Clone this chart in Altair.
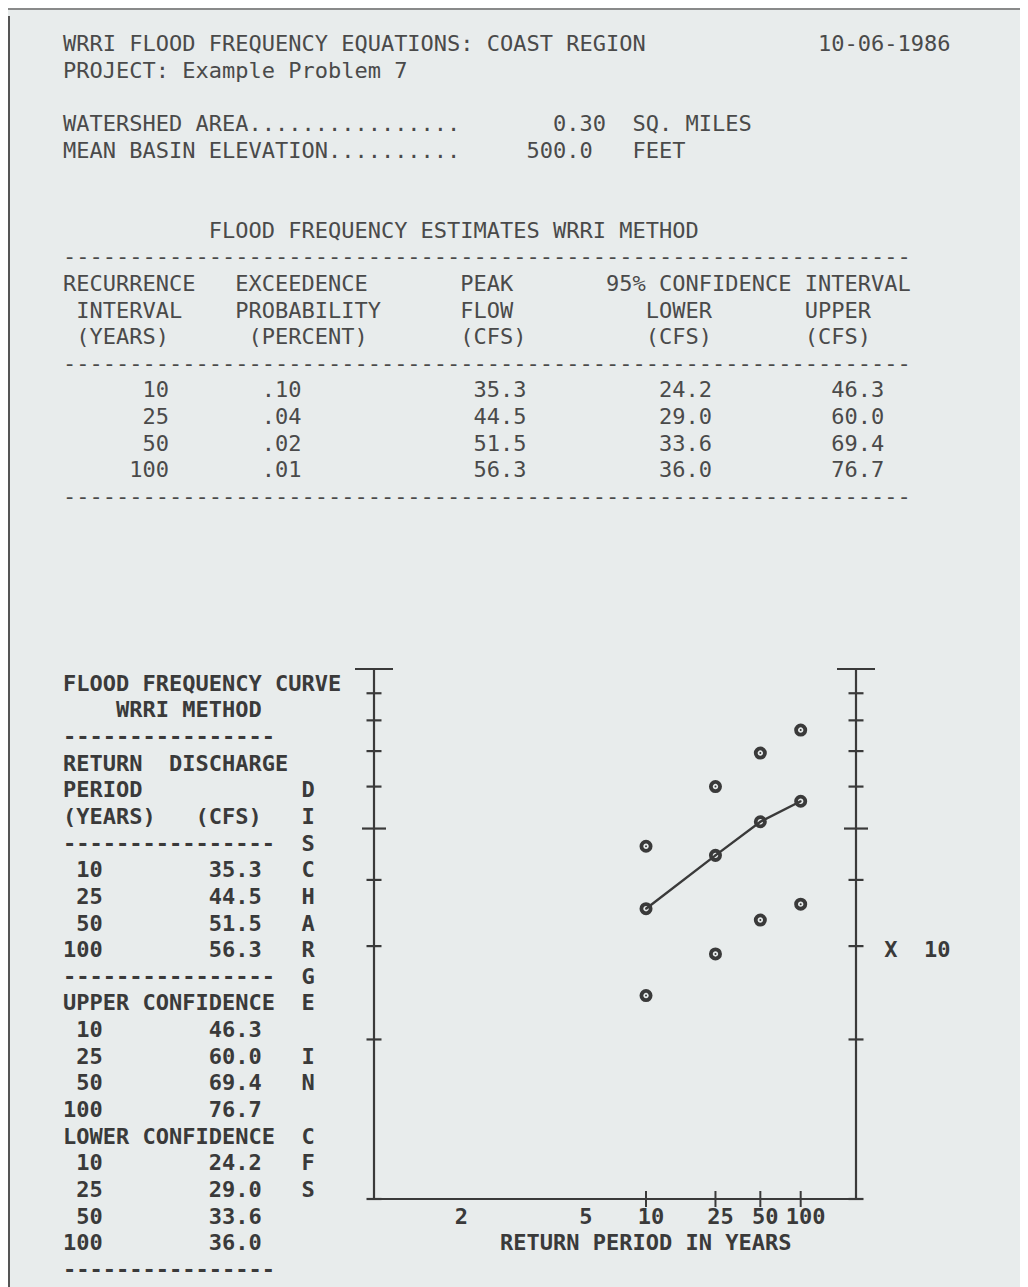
import altair as alt
import pandas as pd
from statistics import NormalDist

# ---------------- data ----------------
return_periods = [10, 25, 50, 100]
exceedance_prob = [0.10, 0.04, 0.02, 0.01]
peak_flow = [35.3, 44.5, 51.5, 56.3]
lower_conf = [24.2, 29.0, 33.6, 36.0]
upper_conf = [46.3, 60.0, 69.4, 76.7]

report_title = "WRRI FLOOD FREQUENCY EQUATIONS: COAST REGION"
report_date = "10-06-1986"
project_line = "PROJECT: Example Problem 7"
watershed_area = 0.30
basin_elevation = 500.0

x_label_periods = [2, 5, 10, 25, 50, 100]
x_tick_periods = [10, 25, 50, 100]
y_tick_values = [20, 30, 40, 50, 60, 70, 80, 90]
y_major_tick = 50
y_domain = [10, 100]
x_domain_z = [-0.556, 2.70]          # normal-probability axis (z units)
y_axis_word = "DISCHARGE IN CFS"
x_axis_title = "RETURN PERIOD IN YEARS"
scale_note = "X  10"

INK = "#3a3a3a"
TOP_INK = "#4a4a4a"
PAPER = "#e8ecec"
FONT = "DejaVu Sans Mono"
NB = "\u00a0"
ZW = "\u200b"


def zq(T):
    return NormalDist().inv_cdf(1 - 1 / T)


def put(s, col, txt):
    if len(s) < col:
        s += " " * (col - len(s))
    return s + txt


def fix(t):
    return ZW + t.replace(" ", NB)


# ---------------- printout text (line grid) ----------------
dash64 = "-" * 64
top = {}
top[0] = put(report_title, 57, report_date)
top[1] = project_line
top[3] = put("WATERSHED AREA" + "." * 16, 30, f"{watershed_area:>11.2f}") + "  SQ. MILES"
top[4] = put("MEAN BASIN ELEVATION" + "." * 10, 30, f"{basin_elevation:>10.1f}") + "   FEET"
top[7] = put("", 11, "FLOOD FREQUENCY ESTIMATES WRRI METHOD")
top[8] = dash64
s = put("", 0, "RECURRENCE"); s = put(s, 13, "EXCEEDENCE"); s = put(s, 30, "PEAK"); s = put(s, 41, "95% CONFIDENCE INTERVAL")
top[9] = s
s = put("", 1, "INTERVAL"); s = put(s, 13, "PROBABILITY"); s = put(s, 30, "FLOW"); s = put(s, 44, "LOWER"); s = put(s, 56, "UPPER")
top[10] = s
s = put("", 1, "(YEARS)"); s = put(s, 14, "(PERCENT)"); s = put(s, 30, "(CFS)"); s = put(s, 44, "(CFS)"); s = put(s, 56, "(CFS)")
top[11] = s
top[12] = dash64
for i, (T, p, q, lo, up) in enumerate(zip(return_periods, exceedance_prob, peak_flow, lower_conf, upper_conf)):
    s = put("", 8 - len(str(T)), str(T))
    s = put(s, 15, f"{p:.2f}"[1:])
    s = put(s, 31, f"{q:4.1f}")
    s = put(s, 45, f"{lo:4.1f}")
    s = put(s, 58, f"{up:4.1f}")
    top[13 + i] = s
top[17] = dash64

left = {}
dash16 = "-" * 16
left[24] = "FLOOD FREQUENCY CURVE"
left[25] = "    WRRI METHOD"
left[26] = dash16
left[27] = "RETURN  DISCHARGE"
left[28] = "PERIOD"
left[29] = put("(YEARS)", 10, "(CFS)")
left[30] = dash16
for i, (T, q) in enumerate(zip(return_periods, peak_flow)):
    left[31 + i] = put(put("", 3 - len(str(T)), str(T)), 11, f"{q:.1f}")
left[35] = dash16
left[36] = "UPPER CONFIDENCE"
for i, (T, q) in enumerate(zip(return_periods, upper_conf)):
    left[37 + i] = put(put("", 3 - len(str(T)), str(T)), 11, f"{q:.1f}")
left[41] = "LOWER CONFIDENCE"
for i, (T, q) in enumerate(zip(return_periods, lower_conf)):
    left[42 + i] = put(put("", 3 - len(str(T)), str(T)), 11, f"{q:.1f}")
left[46] = dash16
for i, ch in enumerate(y_axis_word):
    if ch != " ":
        left[28 + i] = put(left[28 + i], 18, ch)
left[34] = put(left[34], 62, scale_note)
left[45] = put(left[45], 33, x_axis_title)

top_df = pd.DataFrame({"line": list(top.keys()), "text": [fix(t) for t in top.values()]})
left_df = pd.DataFrame({"line": list(left.keys()), "text": [fix(t) for t in left.values()]})

# ---------------- scales ----------------
XS = alt.Scale(domain=x_domain_z, range=[366, 848], nice=False, zero=False)
YS = alt.Scale(type="log", domain=y_domain, range=[1191, 661], nice=False)
LS = alt.Scale(domain=[0, 46], range=[36, 1262], nice=False, zero=False)

# ---------------- plot data ----------------
pts = pd.DataFrame({
    "z": [zq(T) for T in return_periods] * 3,
    "flow": peak_flow + upper_conf + lower_conf,
    "series": ["peak"] * 4 + ["upper"] * 4 + ["lower"] * 4,
})
peak_df = pts[pts.series == "peak"]

axis_df = pd.DataFrame({"z": x_domain_z, "lo": [y_domain[0]] * 2, "hi": [y_domain[1]] * 2})
bottom_df = pd.DataFrame({"z0": [x_domain_z[0]], "z1": [x_domain_z[1]], "v": [y_domain[0]]})

tick_rows = []
for zside in x_domain_z:
    for v in y_tick_values:
        tick_rows.append({"z": zside, "v": v, "len": 24 if v == y_major_tick else 15})
    tick_rows.append({"z": zside, "v": y_domain[1], "len": 38})
    tick_rows.append({"z": zside, "v": y_domain[0], "len": 15})
ytick_df = pd.DataFrame(tick_rows)
xtick_df = pd.DataFrame({"z": [zq(T) for T in x_tick_periods], "v": [y_domain[0]] * len(x_tick_periods)})
xlab_df = pd.DataFrame({"z": [zq(T) for T in x_label_periods],
                        "label": [str(T) for T in x_label_periods],
                        "line": [44] * len(x_label_periods)})

X = lambda f: alt.X(f, scale=XS, axis=None)
Y = lambda f: alt.Y(f, scale=YS, axis=None)

vlines = alt.Chart(axis_df).mark_rule(color=INK, strokeWidth=2.2).encode(x=X("z:Q"), y=Y("lo:Q"), y2="hi:Q")
bline = alt.Chart(bottom_df).mark_rule(color=INK, strokeWidth=2.2).encode(x=X("z0:Q"), x2="z1:Q", y=Y("v:Q"))
yticks = alt.Chart(ytick_df).mark_tick(orient="horizontal", thickness=2.2, color=INK, opacity=1).encode(
    x=X("z:Q"), y=Y("v:Q"), size=alt.Size("len:Q", scale=None, legend=None))
xticks = alt.Chart(xtick_df).mark_tick(orient="vertical", thickness=2, size=16, color=INK, opacity=1).encode(
    x=X("z:Q"), y=Y("v:Q"))
line = alt.Chart(peak_df).mark_line(color=INK, strokeWidth=2.4).encode(x=X("z:Q"), y=Y("flow:Q"))
rings = alt.Chart(pts).mark_point(shape="circle", filled=False, size=85, strokeWidth=3.8, color=INK, opacity=1).encode(
    x=X("z:Q"), y=Y("flow:Q"))
dots = alt.Chart(pts).mark_point(shape="circle", filled=True, size=4, color=INK, opacity=1).encode(
    x=X("z:Q"), y=Y("flow:Q"))
xlabels = alt.Chart(xlab_df).mark_text(align="center", baseline="middle", font=FONT, fontSize=22,
                                       fontWeight="bold", color=INK, dx=5).encode(
    x=X("z:Q"), y=alt.Y("line:Q", scale=LS, axis=None), text="label:N")

top_text = alt.Chart(top_df).mark_text(align="left", baseline="middle", font=FONT, fontSize=22,
                                       color=TOP_INK).encode(
    x=alt.value(55), y=alt.Y("line:Q", scale=LS, axis=None), text="text:N")
left_text = alt.Chart(left_df).mark_text(align="left", baseline="middle", font=FONT, fontSize=22,
                                         fontWeight="bold", color=INK).encode(
    x=alt.value(55), y=alt.Y("line:Q", scale=LS, axis=None), text="text:N")

one = pd.DataFrame({"a": [0]})
frame_top = alt.Chart(one).mark_rule(color="#6a6a6a", strokeWidth=1.5).encode(
    x=alt.value(0), x2=alt.value(1012), y=alt.value(1))
frame_left = alt.Chart(one).mark_rule(color="#555555", strokeWidth=2).encode(
    x=alt.value(1), y=alt.value(8), y2=alt.value(1279))

chart = alt.layer(
    frame_top, frame_left, top_text, left_text,
    vlines, bline, yticks, xticks, line, rings, dots, xlabels,
).resolve_scale(x="independent", y="independent").properties(
    width=1012, height=1279,
    autosize=alt.AutoSizeParams(type="none"),
    padding=0,
).configure(background=PAPER).configure_view(strokeWidth=0)

chart.save("out.html", embed_options={"renderer": "svg", "actions": False})
